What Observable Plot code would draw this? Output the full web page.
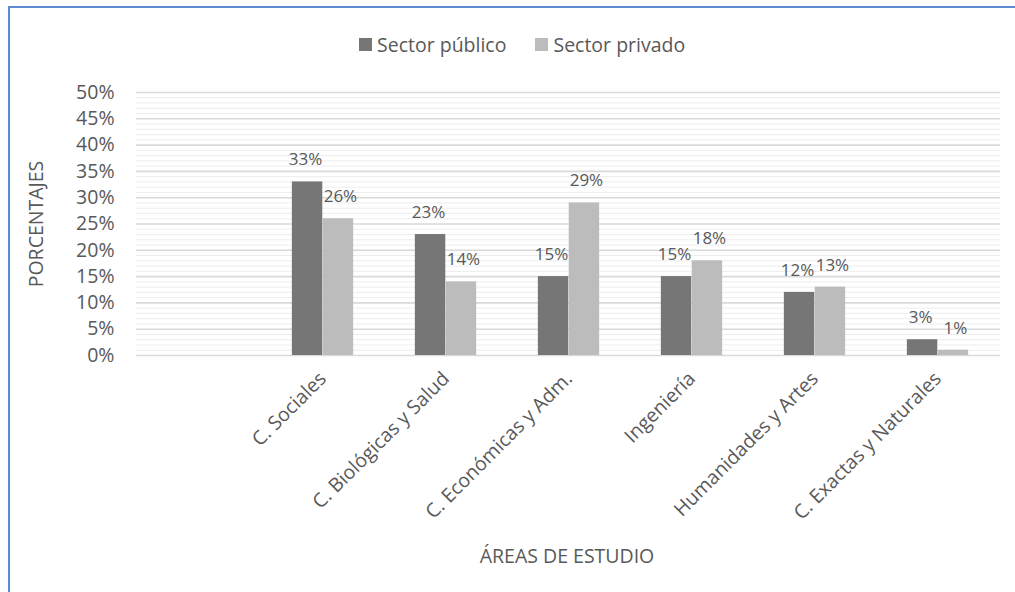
<!DOCTYPE html>
<html>
<head>
<meta charset="utf-8">
<script src="https://cdn.jsdelivr.net/npm/d3@7"></script>
<script src="https://cdn.jsdelivr.net/npm/@observablehq/plot@0.6"></script>
<style>
  html, body { margin: 0; padding: 0; background: #fff; }
  #wrap { position: relative; width: 1015px; height: 592px; overflow: hidden; font-family: "Open Sans", sans-serif; color: #595959; }
  #frame { position: absolute; left: 8px; top: 6px; width: 1100px; height: 700px; border-top: 2px solid #5b8bd0; border-left: 2px solid #5b8bd0; box-sizing: border-box; }
  #legend { position: absolute; left: 359px; top: 30px; height: 28px; display: flex; align-items: center; font-size: 19.5px; white-space: nowrap; }
  .sw { display: inline-block; width: 13px; height: 13px; margin-right: 5px; }
  .item { display: flex; align-items: center; margin-right: 29px; }
  #chart { position: absolute; left: 0; top: 70px; }
  #ytitle { position: absolute; left: 35px; top: 224px; transform: translate(-50%, -50%) rotate(-90deg); font-size: 19.5px; white-space: nowrap; }
  #xtitle { position: absolute; left: 567px; top: 555px; transform: translate(-50%, -50%); font-size: 19.5px; white-space: nowrap; }
</style>
</head>
<body>
<div id="wrap">
  <div id="frame"></div>
  <div id="legend"></div>
  <div id="chart"></div>
  <div id="ytitle">PORCENTAJES</div>
  <div id="xtitle">ÁREAS DE ESTUDIO</div>
</div>
<script>
// ---- data ----
const categories = ["", "C. Sociales", "C. Biológicas y Salud", "C. Económicas y Adm.", "Ingeniería", "Humanidades y Artes", "C. Exactas y Naturales"];
const dataCategories = ["C. Sociales", "C. Biológicas y Salud", "C. Económicas y Adm.", "Ingeniería", "Humanidades y Artes", "C. Exactas y Naturales"];
const series = ["Sector público", "Sector privado"];
const publico = [33, 23, 15, 15, 12, 3];
const privado = [26, 14, 29, 18, 13, 1];
const yTicks = [0, 5, 10, 15, 20, 25, 30, 35, 40, 45, 50];
const colors = ["#767676", "#bcbcbc"];

// ---- build ----
const rowsPub = dataCategories.map((c, i) => ({category: c, value: publico[i]}));
const rowsPriv = dataCategories.map((c, i) => ({category: c, value: privado[i]}));

const W = 1015, H = 522;
const mL = 136, mR = 15, mT = 22, mB = 237;
const bw = (W - mL - mR) / categories.length;
const q = bw / 4;

const minor = d3.range(0, 51, 1).filter(v => v % 5 !== 0);

const legend = document.getElementById("legend");
series.forEach((s, i) => {
  const it = document.createElement("div");
  it.className = "item";
  it.innerHTML = `<span class="sw" style="background:${colors[i]}"></span><span>${s}</span>`;
  legend.appendChild(it);
});

const chart = Plot.plot({
  width: W, height: H,
  marginLeft: mL, marginRight: mR, marginTop: mT, marginBottom: mB,
  style: {fontFamily: "'Open Sans', sans-serif", fontSize: "19.5px", color: "#595959", background: "transparent", overflow: "visible"},
  x: {type: "band", domain: categories, padding: 0, tickSize: 0, tickRotate: -45, tickPadding: 20, label: null},
  y: {domain: [0, 50], ticks: yTicks, tickFormat: d => d + "%", tickSize: 0, tickPadding: 22, label: null},
  marks: [
    Plot.ruleY(minor, {stroke: "#ededed", strokeWidth: 1}),
    Plot.ruleY(yTicks, {stroke: "#d9d9d9", strokeWidth: 1.6}),
    Plot.barY(rowsPub, {x: "category", y: "value", fill: colors[0], insetLeft: q, insetRight: 2 * q}),
    Plot.barY(rowsPriv, {x: "category", y: "value", fill: colors[1], insetLeft: 2 * q, insetRight: q}),
    Plot.text(rowsPub, {x: "category", y: "value", text: d => d.value + "%", dx: -q / 2 - 2, dy: -22, fill: "#595959", fontSize: 17}),
    Plot.text(rowsPriv, {x: "category", y: "value", text: d => d.value + "%", dx: q / 2 + 2, dy: -22, fill: "#595959", fontSize: 17})
  ]
});
document.getElementById("chart").appendChild(chart);
</script>
</body>
</html>
